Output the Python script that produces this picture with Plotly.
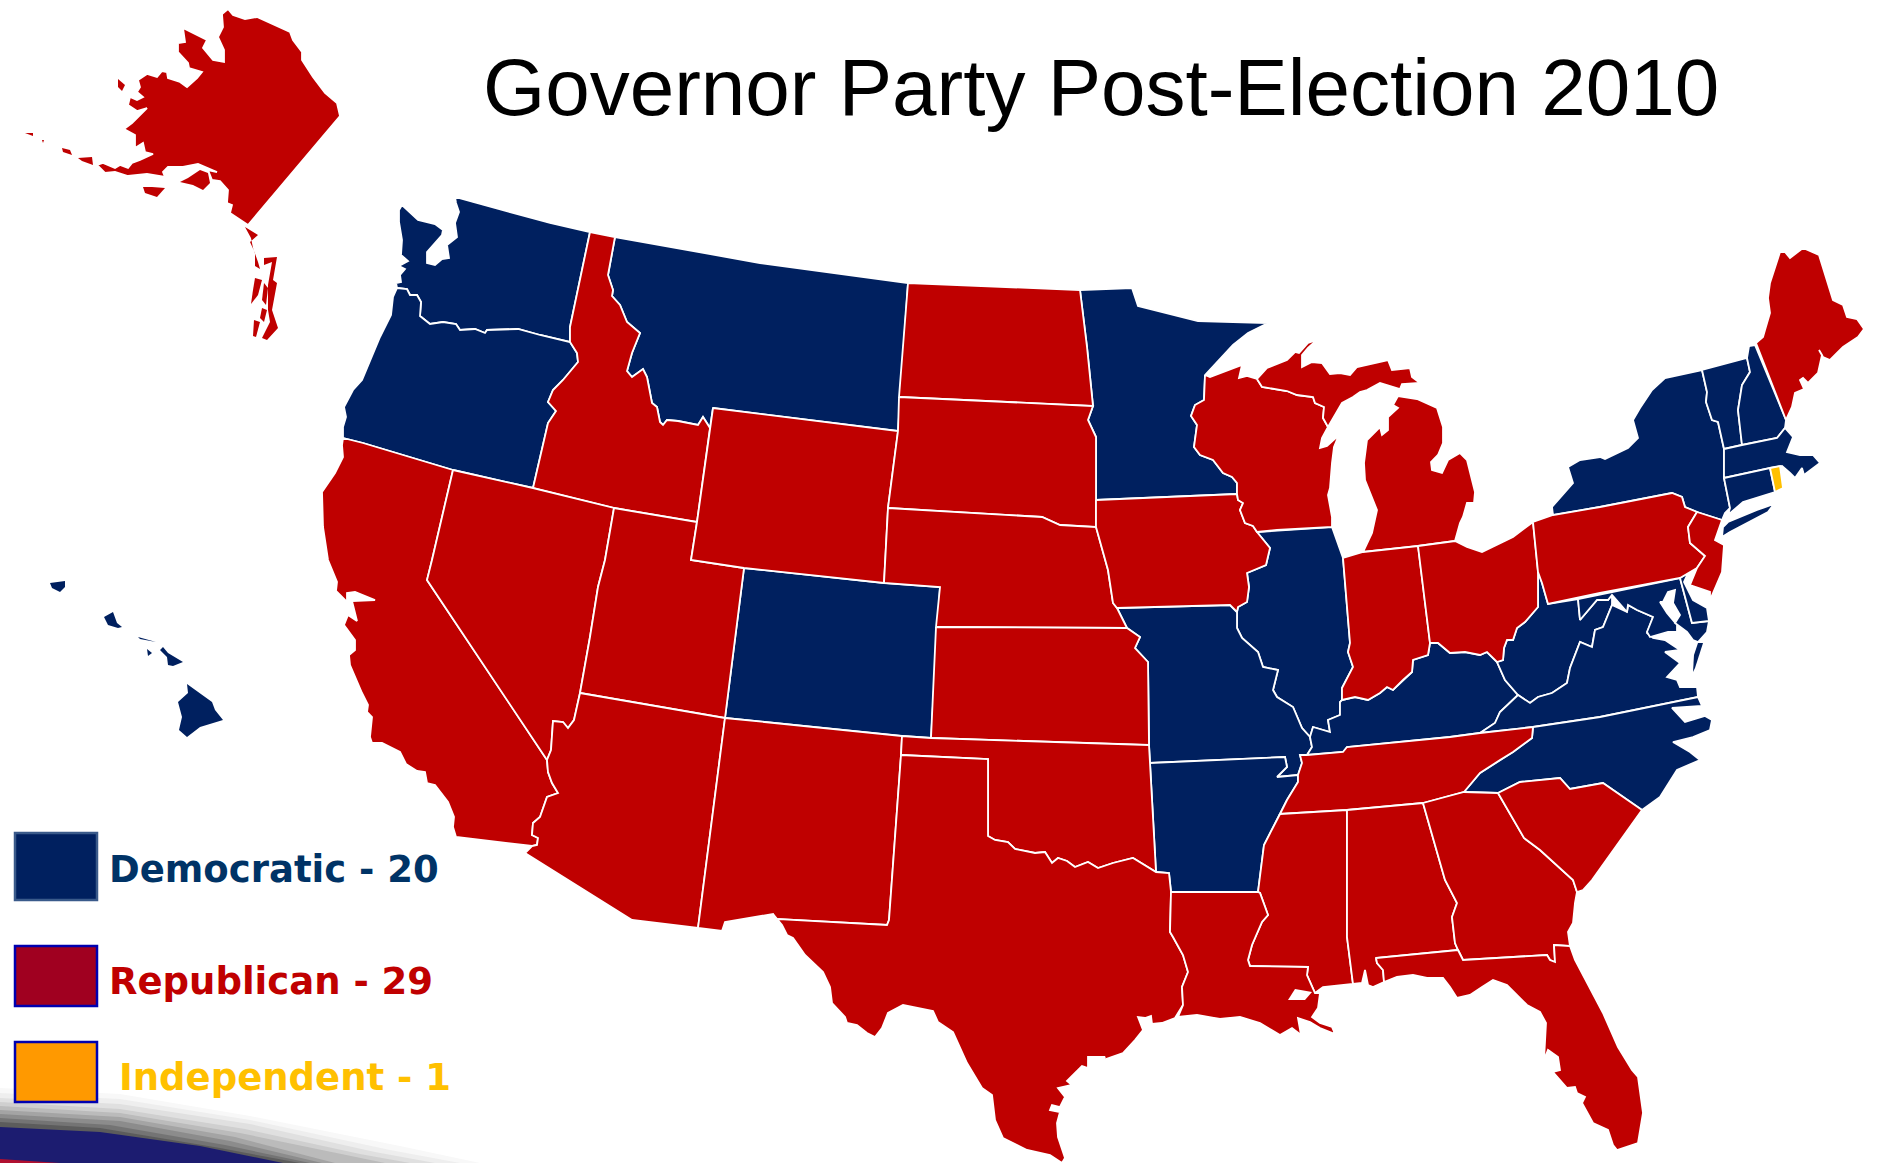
import plotly.graph_objects as go

# Contornos dos estados (pixels da imagem 1878x1163)
AK = [(228,9),(222,14),(223,27),(218,37),(224,50),(224,62),(213,60),(203,48),(207,40),(197,35),(183,28),(185,42),(178,43),(178,52),(188,63),(189,68),(202,72),(197,78),(187,87),(180,82),(168,78),(167,72),(162,71),(157,77),(147,74),(138,80),(140,87),(137,92),(143,97),(137,100),(130,97),(128,105),(137,111),(147,108),(140,115),(132,123),(124,129),(135,135),(135,148),(143,143),(145,152),(153,154),(140,160),(132,163),(128,168),(120,165),(115,168),(103,163),(97,165),(105,173),(115,172),(128,176),(147,174),(165,177),(163,172),(168,167),(183,167),(198,164),(217,172),(208,170),(212,180),(220,181),(228,190),(227,203),(232,205),(230,213),(248,225),(340,116),(337,103),(325,93),(313,77),(302,60),(302,52),(293,40),(290,32),(270,23),(257,17),(245,19),(233,15)]
AK_KENAI = [(180,182),(188,178),(200,170),(208,173),(210,183),(203,190),(193,185)]
AK_KODIAK = [(143,187),(152,187),(165,188),(157,197),(145,193)]
AK_STLAWRENCE = [(118,79),(125,85),(122,91),(118,87)]
AK_ALEUT1 = [(62,148),(70,150),(72,155),(63,152)]
AK_ALEUT2 = [(78,158),(92,157),(93,165),(82,161)]
AK_ALEUT3 = [(25,133),(33,133),(33,136)]
AK_ALEUT4 = [(42,140),(44,140),(43,143)]
AK_MAINLAND_STRIP = [(245,227),(258,235),(250,242),(255,253),(255,266),(260,269),(258,262),(253,248),(251,238)]
AK_RIGHT_STRIP = [(264,258),(277,257),(273,280),(277,283),(272,310),(278,328),(267,340),(262,338),(270,322),(268,310),(268,285),(272,262),(264,265)]
AK_ISLAND_A = [(255,278),(262,280),(258,295),(251,304),(253,290)]
AK_ISLAND_B = [(264,283),(268,288),(266,305),(262,300)]
AK_ISLAND_C = [(262,308),(267,310),(264,322),(260,318)]
AK_ISLAND_D = [(254,320),(260,322),(256,337),(253,336)]

HI_KAUAI = [(50,583),(65,581),(65,587),(60,592),(52,588)]
HI_OAHU = [(104,617),(113,612),(117,623),(122,627),(118,628),(108,625)]
HI_MOLOKAI = [(138,637),(156,642),(140,639)]
HI_LANAI = [(147,649),(152,653),(148,656)]
HI_MAUI = [(160,650),(163,647),(168,653),(177,658),(183,662),(173,666),(168,665),(167,657)]
HI_BIG = [(187,684),(212,702),(215,710),(223,720),(200,727),(187,737),(179,730),(182,717),(178,702),(188,693)]

WA = [(402,205),(399,210),(399,222),(402,240),(401,255),(408,261),(399,266),(405,269),(400,275),(401,282),(396,283),(397,288),(407,289),(410,295),(417,295),(421,302),(420,316),(430,324),(443,322),(456,324),(460,330),(475,329),(485,333),(487,330),(518,329),(540,335),(570,342),(570,327),(590,232),(550,223),(455,197),(456,203),(459,212),(455,223),(457,237),(447,245),(449,258),(442,259),(435,265),(427,263),(427,252),(442,235),(443,230),(435,224),(418,220)]
OR = [(397,288),(393,297),(391,315),(380,337),(362,380),(353,390),(344,407),(346,417),(343,427),(343,438),(363,443),(453,470),(533,488),(548,423),(556,411),(548,402),(553,390),(563,380),(578,362),(577,353),(570,342),(540,335),(518,329),(487,330),(485,333),(475,329),(460,330),(456,324),(443,322),(430,324),(420,316),(421,302),(417,295),(410,295),(407,289)]
CA = [(343,438),(342,445),(343,457),(335,473),(322,492),(323,527),(328,560),(337,582),(336,591),(347,602),(347,593),(355,592),(375,600),(352,601),(357,621),(348,615),(344,625),(355,640),(355,650),(349,655),(350,665),(362,693),(368,705),(367,712),(372,717),(370,737),(372,743),(382,743),(400,752),(406,764),(417,771),(425,772),(427,783),(435,785),(448,802),(454,817),(453,827),(456,837),(532,846),(537,845),(538,838),(532,835),(533,823),(540,817),(547,797),(558,793),(552,783),(548,772),(547,760),(427,580),(432,560),(453,470),(363,443)]
NV = [(453,470),(533,488),(614,508),(605,560),(598,587),(590,637),(580,693),(574,720),(568,728),(563,722),(553,721),(552,733),(551,750),(547,760),(427,580),(432,560)]
ID = [(590,232),(615,237),(608,275),(613,290),(612,296),(620,305),(627,322),(640,333),(632,353),(630,360),(627,371),(632,377),(643,369),(647,377),(652,403),(657,407),(660,422),(663,425),(667,420),(678,421),(698,425),(703,417),(710,428),(697,522),(614,508),(533,488),(548,423),(556,411),(548,402),(553,390),(563,380),(578,362),(577,353),(570,342),(570,327)]
MT = [(615,237),(760,263),(908,283),(898,431),(713,408),(710,428),(703,417),(698,425),(678,421),(667,420),(663,425),(660,422),(657,407),(652,403),(647,377),(643,369),(632,377),(627,371),(630,360),(632,353),(640,333),(627,322),(620,305),(612,296),(613,290),(608,275)]
WY = [(713,408),(898,431),(888,508),(884,583),(744,568),(691,560),(697,522),(710,428)]
UT = [(614,508),(697,522),(691,560),(744,568),(725,718),(580,693),(590,637),(598,587),(605,560)]
CO = [(744,568),(884,583),(940,587),(931,738),(902,736),(725,718)]
AZ = [(580,693),(725,718),(698,928),(632,920),(525,853),(532,846),(537,845),(538,838),(532,835),(533,823),(540,817),(547,797),(558,793),(552,783),(548,772),(547,760),(551,750),(552,733),(553,721),(563,722),(568,728),(574,720)]
NM = [(725,718),(902,736),(901,755),(889,920),(887,925),(775,919),(773,914),(725,922),(722,931),(698,928)]
ND = [(908,283),(1080,290),(1087,347),(1093,406),(899,397)]
SD = [(899,397),(1093,406),(1088,420),(1096,437),(1096,527),(1060,525),(1042,517),(888,508),(898,431)]
NE = [(888,508),(1042,517),(1060,525),(1096,527),(1108,570),(1113,603),(1117,608),(1127,628),(936,627),(940,587),(884,583)]
KS = [(936,627),(1127,628),(1140,637),(1135,648),(1148,662),(1149,745),(931,738)]
OK = [(902,736),(931,738),(1149,745),(1150,763),(1156,872),(1133,858),(1113,863),(1098,868),(1088,862),(1075,867),(1067,861),(1058,858),(1052,863),(1045,852),(1035,853),(1015,849),(1008,842),(995,840),(988,836),(988,759),(901,755)]
TX = [(901,755),(988,759),(988,836),(995,840),(1008,842),(1015,849),(1035,853),(1045,852),(1052,863),(1058,858),(1067,861),(1075,867),(1088,862),(1098,868),(1113,863),(1133,858),(1156,872),(1169,873),(1171,892),(1170,932),(1173,937),(1183,955),(1188,972),(1182,987),(1183,1005),(1175,1018),(1162,1023),(1152,1024),(1151,1016),(1145,1018),(1138,1017),(1143,1030),(1135,1040),(1123,1053),(1103,1060),(1105,1057),(1088,1057),(1088,1068),(1082,1066),(1067,1081),(1072,1085),(1058,1088),(1065,1097),(1060,1107),(1052,1105),(1050,1110),(1060,1112),(1057,1123),(1058,1137),(1065,1158),(1062,1163),(1050,1155),(1027,1150),(1003,1138),(995,1120),(992,1095),(982,1088),(967,1063),(953,1032),(938,1022),(933,1011),(903,1005),(888,1013),(882,1028),(875,1037),(867,1033),(857,1025),(847,1023),(845,1017),(832,1003),(830,987),(823,972),(805,955),(793,938),(787,935),(782,925),(773,914),(775,919),(887,925),(889,920)]
MN = [(1080,290),(1132,288),(1138,306),(1198,321),(1268,323),(1248,333),(1233,345),(1205,375),(1204,400),(1195,405),(1191,416),(1197,425),(1194,447),(1200,455),(1213,460),(1223,473),(1232,477),(1237,483),(1237,494),(1096,500),(1096,437),(1088,420),(1093,406),(1087,347)]
IA = [(1096,500),(1237,494),(1238,500),(1243,503),(1240,510),(1245,523),(1253,526),(1257,532),(1270,548),(1266,565),(1247,573),(1249,587),(1247,602),(1238,607),(1237,612),(1230,605),(1117,608),(1113,603),(1108,570),(1096,527)]
MO = [(1117,608),(1230,605),(1237,612),(1237,628),(1242,638),(1258,652),(1263,667),(1278,670),(1273,690),(1277,697),(1293,707),(1302,728),(1310,737),(1312,747),(1307,755),(1300,755),(1302,763),(1298,775),(1277,777),(1287,767),(1285,757),(1150,763),(1149,745),(1148,662),(1135,648),(1140,637),(1127,628)]
AR = [(1150,763),(1285,757),(1287,767),(1277,777),(1298,775),(1298,782),(1287,800),(1280,814),(1264,845),(1258,892),(1171,892),(1169,873),(1156,872)]
LA = [(1171,892),(1258,892),(1260,893),(1268,915),(1262,922),(1252,945),(1248,960),(1250,966),(1308,967),(1307,975),(1315,993),(1320,993),(1318,1008),(1312,1017),(1320,1023),(1332,1027),(1335,1034),(1320,1028),(1310,1022),(1298,1018),(1301,1035),(1292,1028),(1280,1035),(1260,1023),(1240,1017),(1220,1019),(1197,1015),(1178,1017),(1183,1005),(1182,987),(1188,972),(1183,955),(1173,937),(1170,932)]
LAKE_PONTCHARTRAIN = [(1288,1000),(1295,989),(1312,992),(1305,1000)]
WI = [(1205,375),(1210,377),(1242,365),(1239,378),(1247,376),(1257,379),(1262,387),(1287,391),(1297,395),(1313,397),(1315,403),(1324,407),(1323,418),(1328,427),(1322,438),(1320,448),(1327,446),(1337,437),(1343,425),(1334,447),(1332,463),(1330,488),(1328,495),(1332,517),(1332,527),(1277,530),(1257,532),(1253,526),(1245,523),(1240,510),(1243,503),(1238,500),(1237,494),(1237,483),(1232,477),(1223,473),(1213,460),(1200,455),(1194,447),(1197,425),(1191,416),(1195,405),(1204,400)]
MI_UPPER = [(1257,379),(1267,368),(1287,360),(1295,352),(1299,353),(1308,343),(1317,340),(1308,348),(1302,355),(1302,367),(1312,362),(1322,363),(1330,374),(1340,373),(1350,375),(1357,367),(1388,360),(1392,370),(1410,368),(1412,377),(1420,383),(1402,384),(1400,389),(1380,383),(1367,390),(1360,392),(1353,397),(1342,403),(1328,427),(1323,418),(1324,407),(1315,403),(1313,397),(1297,395),(1287,391),(1262,387)]
MI_LOWER = [(1398,396),(1417,399),(1437,408),(1440,417),(1443,427),(1443,443),(1438,455),(1431,462),(1432,470),(1442,473),(1448,460),(1460,453),(1467,460),(1475,492),(1474,503),(1467,503),(1463,517),(1460,523),(1455,541),(1418,546),(1363,552),(1372,533),(1375,520),(1377,510),(1365,480),(1364,463),(1367,440),(1380,427),(1382,435),(1388,430),(1388,417),(1398,408),(1393,405)]
IL = [(1257,532),(1332,527),(1343,558),(1350,643),(1348,652),(1353,667),(1342,688),(1342,700),(1340,702),(1340,715),(1328,720),(1330,732),(1313,727),(1310,737),(1302,728),(1293,707),(1277,697),(1273,690),(1278,670),(1263,667),(1258,652),(1242,638),(1237,628),(1237,612),(1238,607),(1247,602),(1249,587),(1247,573),(1266,565),(1270,548)]
IN = [(1343,558),(1363,552),(1418,546),(1430,643),(1428,655),(1413,660),(1412,672),(1403,680),(1393,690),(1387,687),(1380,693),(1368,700),(1355,697),(1342,700),(1342,688),(1353,667),(1348,652),(1350,643)]
OH = [(1418,546),(1455,541),(1467,547),(1482,552),(1513,537),(1533,522),(1538,572),(1538,607),(1525,622),(1517,628),(1513,640),(1507,640),(1504,648),(1503,660),(1497,662),(1487,652),(1480,655),(1465,652),(1450,653),(1438,643),(1430,643)]
KY = [(1430,643),(1438,643),(1450,653),(1465,652),(1480,655),(1487,652),(1497,662),(1505,680),(1518,695),(1500,712),(1495,723),(1480,733),(1450,737),(1347,747),(1343,752),(1307,755),(1312,747),(1310,737),(1313,727),(1330,732),(1328,720),(1340,715),(1340,702),(1342,700),(1355,697),(1368,700),(1380,693),(1387,687),(1393,690),(1403,680),(1412,672),(1413,660),(1428,655)]
TN = [(1307,755),(1343,752),(1347,747),(1450,737),(1480,733),(1533,727),(1532,738),(1513,752),(1500,760),(1480,773),(1464,792),(1423,803),(1347,810),(1280,814),(1287,800),(1298,782),(1298,775),(1302,763),(1300,755)]
MS = [(1280,814),(1347,810),(1347,937),(1353,984),(1323,987),(1315,993),(1307,975),(1308,967),(1250,966),(1248,960),(1252,945),(1262,922),(1268,915),(1260,893),(1258,892),(1264,845)]
AL = [(1347,810),(1423,803),(1445,880),(1457,903),(1452,917),(1455,943),(1458,950),(1376,958),(1377,963),(1383,970),(1384,982),(1373,987),(1368,985),(1365,970),(1362,983),(1353,984),(1347,937)]
GA = [(1423,803),(1464,792),(1498,793),(1524,838),(1540,850),(1573,880),(1577,892),(1575,903),(1573,923),(1568,932),(1570,946),(1554,945),(1555,962),(1550,960),(1547,955),(1463,960),(1458,950),(1455,943),(1452,917),(1457,903),(1445,880)]
SC = [(1498,793),(1520,782),(1560,778),(1570,789),(1603,783),(1642,810),(1592,880),(1583,890),(1577,892),(1573,880),(1540,850),(1524,838)]
NC = [(1533,727),(1600,717),(1698,697),(1702,706),(1672,708),(1685,722),(1705,716),(1712,720),(1710,730),(1693,737),(1673,742),(1690,752),(1700,760),(1677,770),(1660,797),(1642,810),(1603,783),(1570,789),(1560,778),(1520,782),(1498,793),(1464,792),(1480,773),(1500,760),(1513,752),(1532,738)]
FL = [(1376,958),(1458,950),(1463,960),(1547,955),(1550,960),(1555,962),(1554,945),(1570,946),(1575,960),(1603,1013),(1618,1047),(1632,1070),(1638,1077),(1643,1113),(1638,1143),(1623,1148),(1617,1150),(1613,1145),(1608,1130),(1593,1123),(1582,1103),(1585,1097),(1577,1093),(1575,1087),(1567,1088),(1553,1072),(1560,1070),(1558,1057),(1548,1050),(1544,1060),(1545,1043),(1546,1023),(1540,1012),(1527,1005),(1507,985),(1493,980),(1482,987),(1470,995),(1457,998),(1450,987),(1443,978),(1427,978),(1413,975),(1397,977),(1384,982),(1383,970),(1377,963)]
VA = [(1480,733),(1495,723),(1500,712),(1518,695),(1530,703),(1538,697),(1552,693),(1567,683),(1570,668),(1580,642),(1592,647),(1595,630),(1603,627),(1612,605),(1627,612),(1628,605),(1637,610),(1653,617),(1647,633),(1653,638),(1665,640),(1680,650),(1665,652),(1680,663),(1667,677),(1677,680),(1680,687),(1697,687),(1698,697),(1600,717),(1533,727)]
VA_SHORE = [(1698,643),(1703,643),(1695,668),(1693,672),(1694,655)]
WV = [(1538,572),(1542,583),(1548,604),(1578,599),(1580,620),(1597,600),(1608,600),(1612,595),(1612,605),(1603,627),(1595,630),(1592,647),(1580,642),(1570,668),(1567,683),(1552,693),(1538,697),(1530,703),(1518,695),(1505,680),(1497,662),(1503,660),(1504,648),(1507,640),(1513,640),(1517,628),(1525,622),(1538,607)]
MD = [(1578,599),(1680,578),(1692,623),(1709,621),(1707,632),(1698,642),(1693,640),(1687,632),(1675,623),(1680,615),(1673,603),(1675,590),(1668,592),(1663,602),(1660,602),(1667,613),(1677,625),(1677,632),(1668,632),(1650,637),(1647,632),(1653,617),(1637,610),(1628,605),(1627,612),(1612,595),(1608,600),(1597,600),(1580,620)]
DE = [(1680,578),(1688,573),(1684,582),(1693,600),(1707,608),(1709,621),(1692,623)]
PA = [(1533,522),(1553,515),(1600,507),(1672,493),(1682,497),(1685,507),(1697,512),(1688,527),(1690,543),(1705,556),(1697,568),(1680,578),(1600,593),(1548,604),(1542,583),(1538,572)]
NJ = [(1697,512),(1722,520),(1715,540),(1724,545),(1722,572),(1710,600),(1710,592),(1690,585),(1697,568),(1705,556),(1690,543),(1688,527)]
NY = [(1552,507),(1553,515),(1600,507),(1672,493),(1682,497),(1685,507),(1697,512),(1722,520),(1725,513),(1730,508),(1724,478),(1724,449),(1718,422),(1712,420),(1706,402),(1707,392),(1702,370),(1665,378),(1652,390),(1640,408),(1633,420),(1638,438),(1628,448),(1605,459),(1600,457),(1580,460),(1568,467),(1573,483)]
LONG_ISLAND = [(1728,522),(1757,510),(1774,504),(1768,512),(1730,532),(1722,537),(1723,527)]
VT = [(1702,370),(1747,358),(1750,372),(1742,385),(1738,410),(1742,445),(1724,449),(1718,422),(1712,420),(1706,402),(1707,392)]
NH = [(1749,346),(1755,345),(1786,420),(1785,428),(1777,438),(1742,445),(1738,410),(1742,385),(1750,372),(1747,358)]
ME = [(1780,252),(1785,252),(1790,258),(1803,248),(1819,255),(1833,300),(1843,305),(1847,317),(1857,319),(1864,329),(1858,337),(1843,347),(1830,360),(1823,357),(1819,350),(1822,355),(1818,373),(1808,383),(1803,378),(1800,380),(1804,389),(1795,393),(1792,407),(1786,420),(1756,343),(1763,337),(1765,330),(1770,313),(1768,298),(1770,283)]
MA = [(1724,449),(1742,445),(1777,438),(1785,428),(1793,437),(1787,452),(1800,455),(1813,455),(1820,463),(1804,475),(1802,468),(1795,478),(1790,473),(1782,466),(1770,468),(1724,478)]
CT = [(1724,478),(1770,468),(1775,492),(1760,497),(1743,502),(1728,515),(1730,508)]
RI = [(1770,468),(1780,466),(1783,488),(1775,492)]

# Partido do governador
democratic = [('Washington', WA), ('Oregon', OR), ('Montana', MT), ('Minnesota', MN), ('Colorado', CO),
              ('Illinois', IL), ('Missouri', MO), ('Arkansas', AR), ('Kentucky', KY), ('West Virginia', WV),
              ('Virginia', VA), ('North Carolina', NC), ('Maryland', MD), ('Delaware', DE),
              ('New York', NY), ('New York', LONG_ISLAND), ('Vermont', VT), ('New Hampshire', NH),
              ('Massachusetts', MA), ('Connecticut', CT)]
democratic_islands = [('Virginia', VA_SHORE), ('Hawaii', HI_KAUAI), ('Hawaii', HI_OAHU), ('Hawaii', HI_MOLOKAI),
                      ('Hawaii', HI_LANAI), ('Hawaii', HI_MAUI), ('Hawaii', HI_BIG)]
republican = [('Alaska', AK), ('Idaho', ID), ('California', CA), ('Nevada', NV), ('Utah', UT),
              ('Arizona', AZ), ('New Mexico', NM), ('Wyoming', WY), ('North Dakota', ND), ('South Dakota', SD),
              ('Nebraska', NE), ('Kansas', KS), ('Oklahoma', OK), ('Texas', TX), ('Iowa', IA), ('Wisconsin', WI),
              ('Michigan', MI_UPPER), ('Michigan', MI_LOWER), ('Indiana', IN), ('Ohio', OH), ('Pennsylvania', PA),
              ('New Jersey', NJ), ('Maine', ME), ('Tennessee', TN), ('Mississippi', MS), ('Alabama', AL),
              ('Georgia', GA), ('South Carolina', SC), ('Florida', FL), ('Louisiana', LA)]
republican_islands = [('Alaska', AK_KENAI), ('Alaska', AK_KODIAK), ('Alaska', AK_STLAWRENCE), ('Alaska', AK_ALEUT1),
                      ('Alaska', AK_ALEUT2), ('Alaska', AK_ALEUT3), ('Alaska', AK_ALEUT4), ('Alaska', AK_MAINLAND_STRIP),
                      ('Alaska', AK_RIGHT_STRIP), ('Alaska', AK_ISLAND_A), ('Alaska', AK_ISLAND_B),
                      ('Alaska', AK_ISLAND_C), ('Alaska', AK_ISLAND_D)]
independent = [('Rhode Island', RI)]

DEM_COLOR = '#00205f'
REP_COLOR = '#bf0000'
IND_COLOR = '#ffc000'

# Faixa decorativa no canto inferior
SWOOSH_LAYERS = [
    ('#f8f8f8', [(0,1088),(120,1094),(250,1116),(400,1146),(480,1163)]),
    ('#eeeeee', [(0,1093),(120,1099),(250,1120),(390,1150),(460,1163)]),
    ('#e0e0e0', [(0,1098),(120,1104),(250,1124),(375,1152),(435,1163)]),
    ('#cfcfcf', [(0,1102),(120,1109),(245,1129),(360,1154),(410,1163)]),
    ('#bbbbbb', [(0,1106),(120,1113),(240,1133),(345,1155),(385,1163)]),
    ('#a4a4a4', [(0,1110),(120,1117),(235,1137),(335,1163)]),
    ('#8c8c8c', [(0,1114),(120,1121),(230,1141),(322,1163)]),
    ('#747474', [(0,1118),(110,1125),(225,1145),(310,1163)]),
    ('#5c5c5c', [(0,1122),(100,1128),(220,1148),(300,1163)]),
    ('#1c1c70', [(0,1127),(100,1132),(200,1146),(283,1163)]),
    ('#b01030', [(0,1159),(60,1163)]),
]

legend_labels = ['Democratic - 20', 'Republican - 29', 'Independent - 1']
legend_text_colors = ['#003366', '#c00000', '#ffc000']
legend_fills = ['#00205f', '#a00020', '#ff9900']
legend_borders = ['#3a5a8a', '#0000b0', '#0000b0']
legend_boxes = [(15, 833, 97, 900), (15, 946, 97, 1006), (15, 1042, 97, 1102)]
legend_text_pos = [(107, 869), (107, 981), (117, 1077)]


def add_poly(fig, pts, color, name, line=True):
    xs = [p[0] for p in pts] + [pts[0][0]]
    ys = [p[1] for p in pts] + [pts[0][1]]
    fig.add_trace(go.Scatter(
        x=xs, y=ys, mode='lines', fill='toself', fillcolor=color,
        line=dict(color='white' if line else color, width=1.8 if line else 0),
        text=name, hoverinfo='text' if name else 'skip', showlegend=False
    ))


fig = go.Figure()

for color, edge in SWOOSH_LAYERS:
    add_poly(fig, edge + [(0, 1163)], color, '', line=False)

for name, pts in democratic:
    add_poly(fig, pts, DEM_COLOR, name)
for name, pts in republican:
    add_poly(fig, pts, REP_COLOR, name)
for name, pts in independent:
    add_poly(fig, pts, IND_COLOR, name)
for name, pts in democratic_islands:
    add_poly(fig, pts, DEM_COLOR, name, line=False)
for name, pts in republican_islands:
    add_poly(fig, pts, REP_COLOR, name, line=False)
add_poly(fig, LAKE_PONTCHARTRAIN, 'white', '', line=False)

for box, fill, border in zip(legend_boxes, legend_fills, legend_borders):
    fig.add_shape(type='rect', x0=box[0], y0=box[1], x1=box[2], y1=box[3],
                  fillcolor=fill, line=dict(color=border, width=2.5))

for label, pos, color in zip(legend_labels, legend_text_pos, legend_text_colors):
    fig.add_annotation(x=pos[0], y=pos[1], text='<b>' + label + '</b>', showarrow=False,
                       xanchor='left', yanchor='middle',
                       font=dict(family='DejaVu Sans', size=37, color=color))

fig.add_annotation(x=1101, y=87, text='Governor Party Post-Election 2010', showarrow=False,
                   xanchor='center', yanchor='middle',
                   font=dict(family='Liberation Sans', size=80, color='black'))

fig.update_layout(
    width=1878, height=1163,
    margin=dict(l=0, r=0, t=0, b=0),
    paper_bgcolor='white', plot_bgcolor='white',
    xaxis=dict(range=[0, 1878], visible=False, fixedrange=True),
    yaxis=dict(range=[1163, 0], visible=False, fixedrange=True),
    showlegend=False
)
# tira a margem padrão do body para o gráfico começar em (0, 0)
fig.write_html("out.html", config={'displayModeBar': False},
               post_script="document.body.style.margin='0';")
